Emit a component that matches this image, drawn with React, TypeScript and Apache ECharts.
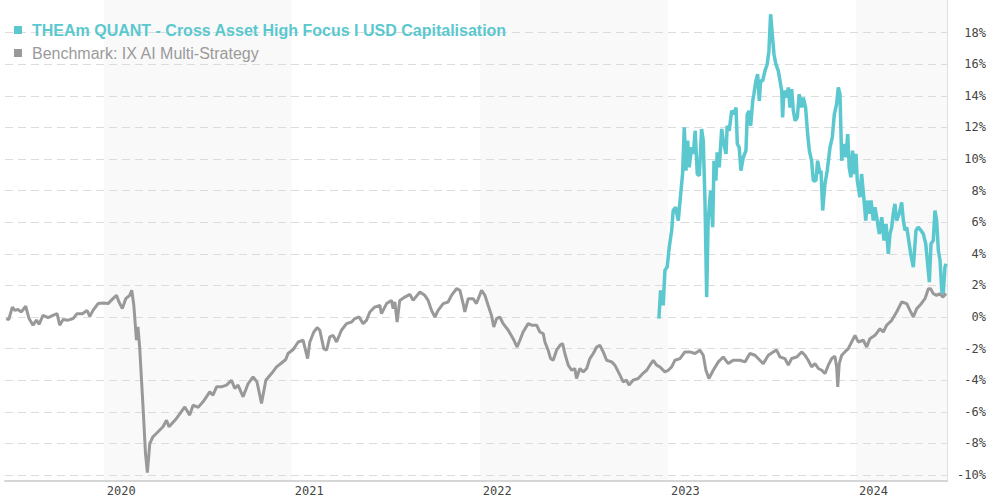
import React, { useEffect, useRef } from "react";
import * as echarts from "echarts";

const fundName = "THEAm QUANT - Cross Asset High Focus I USD Capitalisation";
const benchName = "Benchmark: IX AI Multi-Strategy";
const yearTicks = [2020, 2021, 2022, 2023, 2024];
const shadedYears = [2020, 2022, 2024];
const axisStart = 2019.475;
const axisEnd = 2024.484;

// dates as decimal years, values in %
const benchDates = [
  2019.482, 2019.495, 2019.514, 2019.527, 2019.544, 2019.562, 2019.585, 2019.603, 2019.624, 2019.642,
  2019.656, 2019.677, 2019.704, 2019.73, 2019.752, 2019.766, 2019.784, 2019.81, 2019.837, 2019.858,
  2019.887, 2019.911, 2019.926, 2019.943, 2019.97, 2019.996, 2020.023, 2020.049, 2020.068, 2020.081,
  2020.099, 2020.117, 2020.138, 2020.149, 2020.16, 2020.174, 2020.182, 2020.191, 2020.209, 2020.222,
  2020.232, 2020.245, 2020.262, 2020.289, 2020.315, 2020.334, 2020.347, 2020.387, 2020.431, 2020.457,
  2020.475, 2020.502, 2020.528, 2020.564, 2020.581, 2020.6, 2020.626, 2020.653, 2020.679, 2020.697,
  2020.714, 2020.741, 2020.768, 2020.794, 2020.815, 2020.839, 2020.862, 2020.892, 2020.919, 2020.945,
  2020.968, 2020.98, 2021.007, 2021.034, 2021.06, 2021.084, 2021.096, 2021.117, 2021.135, 2021.149,
  2021.17, 2021.185, 2021.202, 2021.22, 2021.238, 2021.264, 2021.291, 2021.318, 2021.335, 2021.358,
  2021.379, 2021.397, 2021.415, 2021.441, 2021.468, 2021.477, 2021.504, 2021.53, 2021.539, 2021.548,
  2021.56, 2021.574, 2021.601, 2021.628, 2021.645, 2021.681, 2021.707, 2021.725, 2021.743, 2021.761,
  2021.778, 2021.805, 2021.831, 2021.849, 2021.876, 2021.894, 2021.911, 2021.92, 2021.938, 2021.964,
  2021.982, 2022.009, 2022.027, 2022.044, 2022.062, 2022.074, 2022.089, 2022.106, 2022.124, 2022.151,
  2022.177, 2022.198, 2022.213, 2022.23, 2022.257, 2022.275, 2022.302, 2022.319, 2022.337, 2022.346,
  2022.363, 2022.376, 2022.39, 2022.408, 2022.426, 2022.44, 2022.452, 2022.47, 2022.488, 2022.505,
  2022.514, 2022.532, 2022.55, 2022.568, 2022.585, 2022.603, 2022.621, 2022.638, 2022.656, 2022.674,
  2022.701, 2022.718, 2022.745, 2022.762, 2022.78, 2022.793, 2022.815, 2022.842, 2022.869, 2022.887,
  2022.904, 2022.922, 2022.94, 2022.957, 2022.984, 2023.002, 2023.02, 2023.037, 2023.064, 2023.09,
  2023.117, 2023.144, 2023.17, 2023.188, 2023.202, 2023.218, 2023.241, 2023.268, 2023.294, 2023.321,
  2023.347, 2023.383, 2023.41, 2023.436, 2023.463, 2023.489, 2023.507, 2023.534, 2023.56, 2023.578,
  2023.596, 2023.622, 2023.64, 2023.658, 2023.685, 2023.711, 2023.729, 2023.746, 2023.764, 2023.782,
  2023.8, 2023.818, 2023.835, 2023.853, 2023.871, 2023.888, 2023.897, 2023.903, 2023.911, 2023.924,
  2023.941, 2023.959, 2023.977, 2023.995, 2024.012, 2024.039, 2024.057, 2024.074, 2024.101, 2024.128,
  2024.145, 2024.163, 2024.19, 2024.216, 2024.243, 2024.27, 2024.287, 2024.305, 2024.323, 2024.34,
  2024.367, 2024.385, 2024.397, 2024.411, 2024.429, 2024.447, 2024.461, 2024.479,
];
const benchValues = [
  -0.1, -0.16, 0.63, 0.42, 0.47, 0.32, 0.68, -0.1, -0.52, -0.2,
  -0.46, 0.1, -0.04, 0.1, 0.21, -0.52, -0.16, -0.2, -0.1, 0.21,
  0.21, 0.42, 0.04, 0.42, 0.85, 0.88, 0.85, 1.16, 1.37, 0.95,
  0.53, 1.16, 1.37, 1.69, 0.74, -1.47, -0.63, -1.9, -5.69, -8.63,
  -9.85, -8.0, -7.58, -7.26, -6.95, -6.53, -6.95, -6.42, -5.69, -6.21,
  -5.58, -5.72, -5.37, -4.74, -4.95, -4.42, -4.42, -4.31, -4.0, -4.52,
  -4.31, -5.05, -4.21, -3.79, -4.11, -5.47, -4.0, -3.58, -3.16, -2.91,
  -2.69, -2.31, -2.06, -1.58, -1.47, -2.63, -1.58, -0.95, -0.67, -0.84,
  -2.0, -2.1, -1.26, -1.16, -1.58, -0.84, -0.42, -0.32, -0.1, 0.0,
  -0.42, -0.21, 0.32, 0.63, 0.74, 0.21, 0.85, 1.05, 0.53, 0.95,
  -0.32, 1.05, 1.26, 1.43, 1.05, 1.58, 1.37, 1.05, 0.42, 0.0,
  0.42, 0.85, 0.95, 1.37, 1.79, 1.69, 0.85, 0.32, 1.16, 1.16,
  0.85, 1.69, 1.37, 0.74, 0.1, -0.63, -0.1, 0.0, -0.42, -0.84,
  -1.37, -1.9, -1.47, -0.95, -0.42, -0.52, -0.52, -0.95, -1.05, -1.58,
  -2.1, -2.63, -2.74, -2.1, -1.79, -1.68, -2.31, -3.05, -3.37, -3.26,
  -3.89, -3.26, -3.47, -3.26, -2.63, -2.31, -1.9, -1.79, -2.21, -2.74,
  -2.84, -3.05, -3.68, -4.11, -4.0, -4.31, -4.0, -3.89, -3.55, -3.37,
  -3.05, -2.74, -3.05, -3.16, -3.47, -3.37, -3.16, -2.74, -2.63, -2.21,
  -2.21, -2.31, -2.1, -2.42, -3.37, -3.89, -3.37, -2.84, -2.53, -2.95,
  -2.74, -2.74, -2.84, -2.31, -2.42, -2.74, -2.95, -2.42, -2.21, -2.1,
  -2.53, -2.63, -3.05, -2.63, -2.53, -2.21, -2.42, -2.74, -3.16, -2.95,
  -3.26, -3.37, -3.58, -3.05, -2.63, -2.48, -3.16, -4.42, -2.95, -2.42,
  -2.21, -2.0, -1.58, -1.16, -1.58, -1.47, -1.9, -1.37, -1.16, -0.74,
  -0.95, -0.52, -0.21, 0.32, 0.95, 0.85, 0.42, 0.0, 0.53, 0.74,
  1.16, 1.79, 1.79, 1.48, 1.37, 1.48, 1.26, 1.48,
];

const fundDates = [
  2022.952, 2022.961, 2022.975, 2022.984, 2022.996, 2023.007, 2023.02, 2023.028, 2023.041, 2023.055,
  2023.068, 2023.078, 2023.087, 2023.096, 2023.105, 2023.113, 2023.126, 2023.135, 2023.145, 2023.156,
  2023.167, 2023.179, 2023.188, 2023.197, 2023.206, 2023.214, 2023.227, 2023.238, 2023.245, 2023.255,
  2023.262, 2023.273, 2023.286, 2023.294, 2023.309, 2023.315, 2023.326, 2023.339, 2023.351, 2023.362,
  2023.369, 2023.379, 2023.388, 2023.401, 2023.415, 2023.422, 2023.432, 2023.44, 2023.451, 2023.457,
  2023.468, 2023.477, 2023.486, 2023.493, 2023.504, 2023.516, 2023.528, 2023.537, 2023.546, 2023.555,
  2023.564, 2023.574, 2023.587, 2023.596, 2023.605, 2023.61, 2023.617, 2023.631, 2023.64, 2023.649,
  2023.658, 2023.667, 2023.676, 2023.688, 2023.698, 2023.711, 2023.72, 2023.732, 2023.743, 2023.752,
  2023.764, 2023.773, 2023.787, 2023.796, 2023.809, 2023.814, 2023.823, 2023.835, 2023.847, 2023.862,
  2023.874, 2023.885, 2023.897, 2023.906, 2023.915, 2023.924, 2023.936, 2023.947, 2023.956, 2023.964,
  2023.973, 2023.982, 2023.991, 2024.0, 2024.007, 2024.021, 2024.03, 2024.043, 2024.052, 2024.06,
  2024.071, 2024.08, 2024.092, 2024.101, 2024.113, 2024.124, 2024.137, 2024.149, 2024.16, 2024.172,
  2024.181, 2024.19, 2024.198, 2024.207, 2024.216, 2024.23, 2024.243, 2024.252, 2024.261, 2024.27,
  2024.278, 2024.291, 2024.305, 2024.319, 2024.331, 2024.346, 2024.358, 2024.371, 2024.381, 2024.39,
  2024.399, 2024.411, 2024.42, 2024.429, 2024.438, 2024.447, 2024.456, 2024.464, 2024.473, 2024.479,
];
const fundValues = [
  -0.1, 1.68, 0.74, 2.95, 3.16, 4.42, 5.47, 6.74, 6.95, 6.1,
  7.79, 9.05, 12.0, 9.26, 11.16, 9.47, 10.74, 10.32, 11.79, 9.05,
  8.95, 11.9, 11.16, 7.37, 1.26, 6.1, 8.0, 5.68, 9.89, 8.63,
  10.42, 9.47, 11.9, 11.16, 10.32, 12.1, 11.79, 13.05, 12.84, 13.26,
  10.95, 10.74, 9.26, 10.11, 10.53, 12.84, 13.05, 12.1, 13.68, 14.1,
  14.95, 15.37, 13.68, 14.95, 14.95, 15.58, 16.0, 16.84, 19.16, 17.89,
  16.63, 16.0, 15.58, 14.95, 14.32, 12.63, 14.32, 13.89, 14.53, 13.26,
  14.42, 13.05, 12.42, 12.63, 14.1, 13.26, 13.89, 13.26, 11.58, 10.53,
  9.89, 8.63, 8.63, 9.89, 9.05, 9.26, 6.74, 8.42, 9.26, 10.74,
  11.37, 12.84, 13.47, 14.53, 14.1, 9.89, 10.95, 10.11, 11.58, 9.47,
  8.84, 10.53, 9.05, 10.32, 8.63, 7.58, 9.05, 7.37, 6.1, 7.37,
  6.53, 7.37, 6.1, 6.95, 6.1, 5.26, 6.32, 4.84, 5.89, 4.0,
  5.26, 5.68, 6.53, 7.16, 6.1, 6.53, 7.26, 6.1, 5.47, 5.68,
  5.05, 4.0, 3.16, 5.47, 5.68, 5.47, 5.26, 4.63, 3.37, 2.21,
  4.63, 4.84, 6.74, 6.1, 4.21, 3.58, 1.68, 1.47, 3.16, 3.37,
];

export default function App() {
  const ref = useRef<HTMLDivElement>(null);

  useEffect(() => {
    if (!ref.current) return;
    const chart = echarts.init(ref.current, undefined, { renderer: "svg" });
    const bench = benchDates.map((d, i) => [d, benchValues[i]]);
    const fund = fundDates.map((d, i) => [d, fundValues[i]]);
    const bands = shadedYears.map((y) => [
      { xAxis: y },
      { xAxis: Math.min(y + 1, axisEnd) },
    ]);

    const option: any = {
      animation: false,
      legend: {
        left: 9,
        top: 16,
        orient: "vertical",
        icon: "rect",
        itemWidth: 8,
        itemHeight: 8,
        itemGap: 5,
        selectedMode: false,
        textStyle: {
          fontFamily: "'Liberation Sans', Arial, sans-serif",
          fontSize: 16,
          lineHeight: 18,
          padding: [0, 0, 0, 5],
        },
        data: [
          { name: fundName, textStyle: { color: "#5bc8cf", fontWeight: "bold" } },
          { name: benchName, textStyle: { color: "#9a9a9a" } },
        ],
      },
      grid: [
        { left: 5, right: 53, top: 1, bottom: 25 },
        { left: 5, right: 53, top: 0, bottom: 19 },
      ],
      xAxis: [
        { type: "value", gridIndex: 0, min: axisStart, max: axisEnd, show: false },
        {
          type: "value",
          gridIndex: 1,
          min: axisStart,
          max: axisEnd,
          axisLine: { show: true, lineStyle: { color: "#d6d6d6", width: 2 } },
          axisTick: { show: false },
          splitLine: { show: false },
          axisLabel: {
            customValues: yearTicks,
            formatter: (v: number) => String(Math.round(v)),
            align: "left",
            padding: [0, 0, 0, 3],
            margin: 4,
            fontFamily: "'DejaVu Sans Mono', monospace",
            fontSize: 12,
            color: "#444",
          },
        },
      ],
      yAxis: [
        {
          type: "value",
          gridIndex: 0,
          position: "right",
          min: -10,
          max: 20,
          interval: 2,
          axisLine: { show: false },
          axisTick: { show: false },
          splitLine: {
            show: true,
            showMaxLine: false,
            lineStyle: { color: "#dcdcdc", type: [8, 5], width: 1 },
          },
          axisLabel: {
            showMaxLabel: false,
            formatter: "{value}%",
            align: "right",
            margin: 39,
            fontFamily: "'DejaVu Sans Mono', monospace",
            fontSize: 12,
            color: "#444",
          },
        },
        {
          type: "value",
          gridIndex: 1,
          position: "right",
          min: 0,
          max: 1,
          axisLine: { show: true, lineStyle: { color: "#e0e0e0", width: 1 } },
          axisTick: { show: false },
          axisLabel: { show: false },
          splitLine: { show: false },
        },
      ],
      series: [
        {
          type: "line",
          name: "bands",
          xAxisIndex: 1,
          yAxisIndex: 1,
          data: [],
          silent: true,
          z: -1,
          markArea: {
            silent: true,
            z: -1,
            itemStyle: { color: "rgba(0,0,0,0.024)" },
            data: bands,
          },
        },
        {
          type: "line",
          name: fundName,
          xAxisIndex: 0,
          yAxisIndex: 0,
          data: fund,
          showSymbol: false,
          symbol: "none",
          color: "#5bc8cf",
          lineStyle: { color: "#5bc8cf", width: 3.5 },
        },
        {
          type: "line",
          name: benchName,
          xAxisIndex: 0,
          yAxisIndex: 0,
          data: bench,
          showSymbol: false,
          symbol: "none",
          color: "#999999",
          lineStyle: { color: "#999999", width: 3 },
        },
      ],
    };
    chart.setOption(option);
    return () => chart.dispose();
  }, []);

  return (
    <div
      style={{
        position: "fixed",
        left: 0,
        top: 0,
        width: 987,
        height: 500,
        overflow: "hidden",
        background: "#fff",
      }}
    >
      <div ref={ref} style={{ width: 1000, height: 500 }} />
    </div>
  );
}
